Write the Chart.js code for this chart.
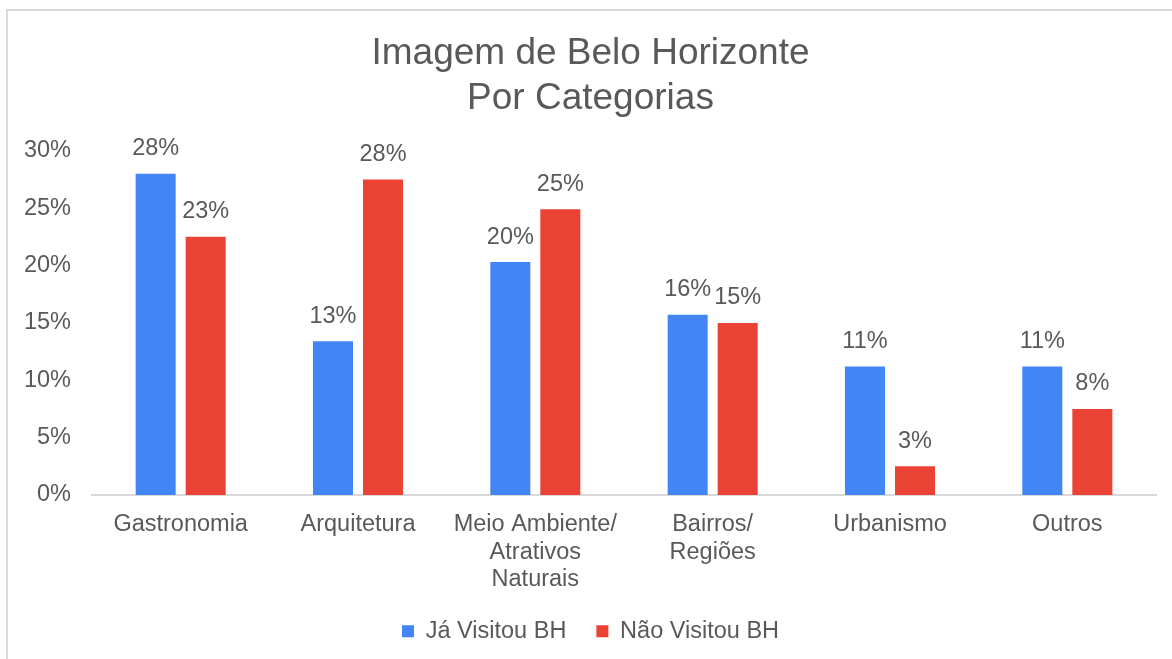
<!DOCTYPE html>
<html>
<head>
<meta charset="utf-8">
<script src="https://cdn.jsdelivr.net/npm/chart.js"></script>
<style>
  html, body { margin: 0; padding: 0; background: #fff; }
  #wrap { position: relative; width: 1172px; height: 659px; }
  #frame {
    position: absolute; left: 6px; top: 9px; right: 0; bottom: 0;
    border-left: 2px solid #dadada; border-top: 2px solid #dadada;
    pointer-events: none;
  }
</style>
</head>
<body>
<div id="wrap">
  <canvas id="chart" width="1172" height="659"></canvas>
  <div id="frame"></div>
</div>
<script>
  // Categories (multi-line labels as in the picture)
  var categories = [
    ['Gastronomia'],
    ['Arquitetura'],
    ['Meio Ambiente/', 'Atrativos', 'Naturais'],
    ['Bairros/', 'Regiões'],
    ['Urbanismo'],
    ['Outros']
  ];

  // Bar heights in %
  var jaVisitou  = [28.0, 13.4, 20.3, 15.7, 11.2, 11.2];
  var naoVisitou = [22.5, 27.5, 24.9, 15.0, 2.5, 7.5];

  // Value labels printed above the bars
  var jaVisitouLabels  = ['28%', '13%', '20%', '16%', '11%', '11%'];
  var naoVisitouLabels = ['23%', '28%', '25%', '15%', '3%', '8%'];

  var seriesNames = ['Já Visitou BH', 'Não Visitou BH'];
  var titleLines = ['Imagem de Belo Horizonte', 'Por Categorias'];

  var BLUE = '#4285F4';
  var RED = '#EA4335';
  var TEXT = '#595959';
  var FONT = 'Arial, "Liberation Sans", sans-serif';
  var FS = 23.5;

  // Draw the % labels above each bar (no datalabels plugin offline)
  var valueLabels = {
    id: 'valueLabels',
    afterDatasetsDraw: function(chart) {
      var ctx = chart.ctx;
      var allLabels = [jaVisitouLabels, naoVisitouLabels];
      ctx.save();
      ctx.font = FS + 'px ' + FONT;
      ctx.fillStyle = TEXT;
      ctx.textAlign = 'center';
      ctx.textBaseline = 'middle';
      chart.data.datasets.forEach(function(ds, di) {
        var meta = chart.getDatasetMeta(di);
        meta.data.forEach(function(bar, i) {
          ctx.fillText(allLabels[di][i], bar.x, bar.y - 25);
        });
      });
      ctx.restore();
    }
  };

  new Chart(document.getElementById('chart'), {
    type: 'bar',
    data: {
      labels: categories,
      datasets: [
        { label: seriesNames[0], data: jaVisitou, backgroundColor: BLUE },
        { label: seriesNames[1], data: naoVisitou, backgroundColor: RED }
      ]
    },
    options: {
      responsive: false,
      animation: false,
      datasets: {
        bar: { categoryPercentage: 0.564, barPercentage: 0.8 }
      },
      layout: {
        padding: { left: 25, right: 16, top: 0, bottom: 6 }
      },
      plugins: {
        title: {
          display: true,
          text: titleLines,
          color: TEXT,
          font: { size: 37, family: FONT, weight: 'normal', lineHeight: 1.2 },
          padding: { top: 32, bottom: 30 }
        },
        legend: {
          position: 'bottom',
          labels: {
            color: TEXT,
            font: { size: FS, family: FONT },
            boxWidth: 12,
            boxHeight: 12,
            padding: 30
          }
        },
        tooltip: { enabled: false }
      },
      scales: {
        x: {
          grid: { display: false, drawTicks: false },
          border: { display: true, color: '#d9d9d9', width: 2 },
          ticks: {
            color: TEXT,
            font: { size: FS, family: FONT, lineHeight: 1.17 },
            padding: 16,
            maxRotation: 0,
            autoSkip: false
          },
          afterFit: function(scale) { scale.height = 94.5; }
        },
        y: {
          min: 0,
          max: 30,
          grid: { display: false, drawTicks: false },
          border: { display: false },
          ticks: {
            stepSize: 5,
            color: TEXT,
            font: { size: FS, family: FONT },
            padding: 21,
            callback: function(v) { return v + '%'; }
          },
          afterFit: function(scale) { scale.width = 67; }
        }
      }
    },
    plugins: [valueLabels]
  });
</script>
</body>
</html>
